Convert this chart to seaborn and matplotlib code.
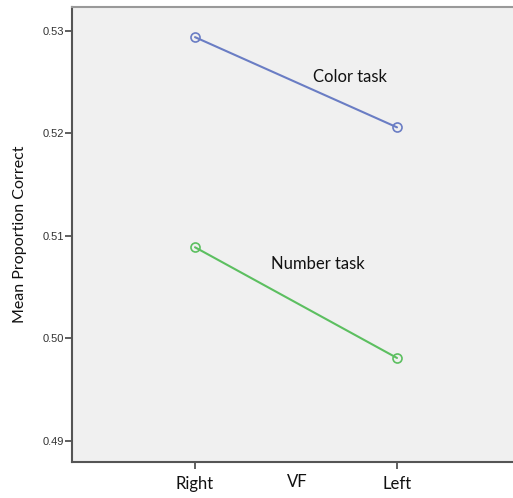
import matplotlib
matplotlib.use("Agg")
import matplotlib.pyplot as plt
import seaborn as sns
import pandas as pd

vf_levels = ["Right", "Left"]
tasks = ["Color task", "Number task"]
color_task = [0.5294, 0.5206]
number_task = [0.5089, 0.4981]
y_ticks = [0.49, 0.50, 0.51, 0.52, 0.53]
y_tick_labels = ["0.49", "0.50", "0.51", "0.52", "0.53"]

df = pd.DataFrame({
    "VF": vf_levels * 2,
    "task": [tasks[0]] * 2 + [tasks[1]] * 2,
    "value": color_task + number_task,
})

sns.set_theme(style="white")
plt.rcParams['font.family'] = ['Lato', 'DejaVu Sans']

fig = plt.figure(figsize=(5.13, 4.98), dpi=100)
W, H = 513, 498
left, right, top, bottom = 72, 520, 7, 462
ax = fig.add_axes([left / W, 1 - bottom / H, (right - left) / W, (bottom - top) / H])
ax.set_facecolor("#f0f0f0")

palette = {"Color task": "#6a7dc4", "Number task": "#5cbf60"}
sns.lineplot(data=df, x="VF", y="value", hue="task", palette=palette,
             marker="o", markersize=6.5, markerfacecolor="none",
             markeredgewidth=1.2, linewidth=1.5, legend=False, ax=ax, sort=False)
for line in ax.lines:
    line.set_markeredgecolor(line.get_color())

ax.set_xlim(-0.609, 1.609)
ax.set_ylim(0.48795, 0.53234)
ax.set_yticks(y_ticks)
ax.set_yticklabels(y_tick_labels, fontsize=8, family=['Liberation Sans', 'DejaVu Sans'], color="#333333")
ax.set_xticks([0, 1])
ax.set_xticklabels(vf_levels, fontsize=12, color="#111111")
ax.tick_params(axis='both', which='major', direction='out', length=5, width=1.2,
               color="#444444", bottom=True, left=True)
ax.tick_params(axis='y', pad=1)
ax.tick_params(axis='x', pad=5)

for s in ["left", "bottom"]:
    ax.spines[s].set_color("#555555")
    ax.spines[s].set_linewidth(1.5)
ax.spines["top"].set_color("#999999")
ax.spines["top"].set_linewidth(1.5)
ax.spines["right"].set_visible(False)

ax.set_xlabel("VF", fontsize=12, color="#111111")
ax.xaxis.set_label_coords(0.502, -0.026)
ax.set_ylabel("Mean Proportion Correct", fontsize=11.5, color="#111111", labelpad=11)

ax.text(0.767, 0.5255, "Color task", fontsize=12, ha="center", va="center", color="#111111")
ax.text(0.61, 0.5073, "Number task", fontsize=12, ha="center", va="center", color="#111111")

fig.savefig("out.png", dpi=100)
